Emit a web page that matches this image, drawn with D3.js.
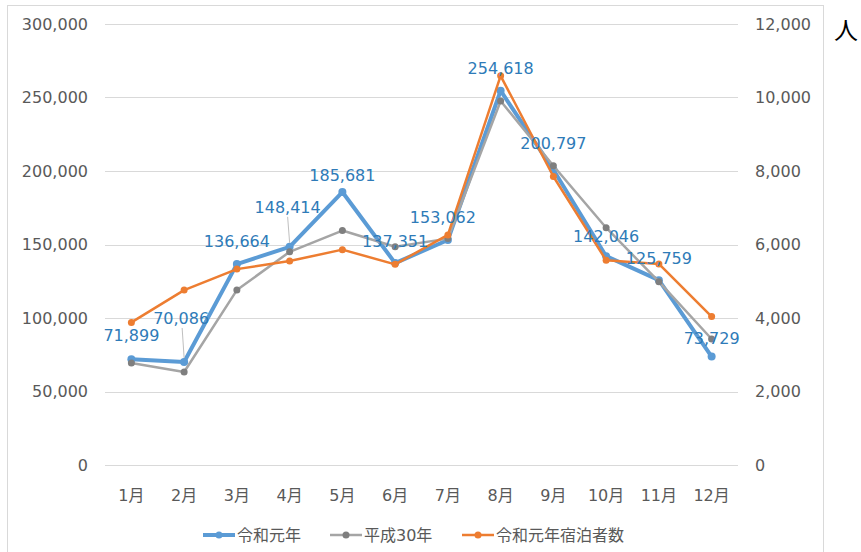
<!DOCTYPE html>
<html>
<head>
<meta charset="utf-8">
<script src="https://cdn.jsdelivr.net/npm/d3@7"></script>
<style>
  body { margin: 0; background: #fff; }
  svg { display: block; }
  text { font-family: "DejaVu Sans", "Noto Sans CJK JP", sans-serif; }
</style>
</head>
<body>
<svg width="861" height="552"></svg>
<script>
const months = ["1月", "2月", "3月", "4月", "5月", "6月", "7月", "8月", "9月", "10月", "11月", "12月"]

// 令和元年 (left axis)
const reiwa = [71899, 70086, 136664, 148414, 185681, 137351, 153062, 254618, 200797, 142046, 125759, 73729]
// 平成30年 (left axis)
const heisei30 = [69400, 63300, 119000, 145000, 159500, 148500, 154000, 247600, 203600, 161400, 124700, 85700]
// 令和元年宿泊者数 (right axis)
const stays = [3880, 4760, 5330, 5550, 5860, 5460, 6260, 10590, 7850, 5570, 5470, 4040]

const leftTicks = [0, 50000, 100000, 150000, 200000, 250000, 300000]
const rightTicks = [0, 2000, 4000, 6000, 8000, 10000, 12000]
const legendNames = ["令和元年", "平成30年", "令和元年宿泊者数"]

// label offsets relative to each point [dx, dy, leader?]
const labelOffsets = [
    [0, -24, false], [-3, -44, true], [0, -23, false], [-2, -40, true],
    [0, -17, false], [0, -22, false], [-5, -23, false], [0, -22, false],
    [0, -27, false], [0, -20, false], [0, -22, false], [0, -18, false]
]

const svg = d3.select("svg")
const fmt = d3.format(",")

svg.append("rect")
    .attr("x", 7.5).attr("y", 5.5)
    .attr("width", 816).attr("height", 560)
    .attr("fill", "none")
    .attr("stroke", "#d9d9d9")

const x = d3.scaleBand()
    .domain(months)
    .range([105, 738])

const yL = d3.scaleLinear().domain([0, 300000]).range([465, 24])
const yR = d3.scaleLinear().domain([0, 12000]).range([465, 24])

const cx = (i) => x(months[i]) + x.bandwidth() / 2

// gridlines
svg.append("g")
    .selectAll("line")
    .data(leftTicks)
    .enter()
    .append("line")
    .attr("x1", 105).attr("x2", 738)
    .attr("y1", d => Math.round(yL(d)) + 0.5)
    .attr("y2", d => Math.round(yL(d)) + 0.5)
    .attr("stroke", "#d9d9d9")
    .attr("stroke-width", 1)

// left axis
svg.append("g")
    .selectAll("text")
    .data(leftTicks)
    .enter()
    .append("text")
    .attr("x", 88)
    .attr("y", d => yL(d))
    .attr("dy", "0.36em")
    .attr("text-anchor", "end")
    .attr("font-size", 16)
    .attr("fill", "#595959")
    .text(d => fmt(d))

// right axis
svg.append("g")
    .selectAll("text")
    .data(rightTicks)
    .enter()
    .append("text")
    .attr("x", 755)
    .attr("y", d => yR(d))
    .attr("dy", "0.36em")
    .attr("font-size", 16)
    .attr("fill", "#595959")
    .text(d => fmt(d))

// month labels
svg.append("g")
    .selectAll("text")
    .data(months)
    .enter()
    .append("text")
    .attr("x", d => x(d) + x.bandwidth() / 2)
    .attr("y", 495)
    .attr("dy", "0.36em")
    .attr("text-anchor", "middle")
    .attr("font-size", 16)
    .attr("fill", "#595959")
    .text(d => d)

svg.append("text")
    .attr("x", 834).attr("y", 30)
    .attr("dy", "0.36em")
    .attr("font-size", 24)
    .attr("fill", "#000")
    .attr("font-family", "Noto Sans CJK JP")
    .text("人")

const series = [
    { values: reiwa, y: yL, color: "#5b9bd5", marker: "#5b9bd5", width: 4, r: 4 },
    { values: heisei30, y: yL, color: "#a5a5a5", marker: "#7f7f7f", width: 2.5, r: 3.5 },
    { values: stays, y: yR, color: "#ed7d31", marker: "#ed7d31", width: 2.5, r: 3.5 }
]

series.forEach(s => {
    const line = d3.line()
        .x((d, i) => cx(i))
        .y(d => s.y(d))

    svg.append("path")
        .datum(s.values)
        .attr("d", line)
        .attr("fill", "none")
        .attr("stroke", s.color)
        .attr("stroke-width", s.width)
        .attr("stroke-linejoin", "round")

    svg.append("g")
        .selectAll("circle")
        .data(s.values)
        .enter()
        .append("circle")
        .attr("cx", (d, i) => cx(i))
        .attr("cy", d => s.y(d))
        .attr("r", s.r)
        .attr("fill", s.marker)
})

// leader lines
svg.append("g")
    .selectAll("line")
    .data(reiwa.map((v, i) => ({ v, i })).filter(d => labelOffsets[d.i][2]))
    .enter()
    .append("line")
    .attr("x1", d => cx(d.i) - 2)
    .attr("y1", d => yL(d.v) + labelOffsets[d.i][1] + 10)
    .attr("x2", d => cx(d.i))
    .attr("y2", d => yL(d.v) - 4)
    .attr("stroke", "#bfbfbf")
    .attr("stroke-width", 1)

// data labels
svg.append("g")
    .selectAll("text")
    .data(reiwa)
    .enter()
    .append("text")
    .attr("x", (d, i) => cx(i) + labelOffsets[i][0])
    .attr("y", (d, i) => yL(d) + labelOffsets[i][1])
    .attr("dy", "0.36em")
    .attr("text-anchor", "middle")
    .attr("font-size", 16)
    .attr("fill", "#2e7bb8")
    .text(d => fmt(d))

// legend
const legendX = [203, 330, 462]
const legendColors = ["#5b9bd5", "#a5a5a5", "#ed7d31"]
const legendMarkers = ["#5b9bd5", "#7f7f7f", "#ed7d31"]
const legendWidths = [4, 2.5, 2.5]
const lg = svg.append("g")
legendNames.forEach((name, i) => {
    lg.append("line")
        .attr("x1", legendX[i]).attr("x2", legendX[i] + 32)
        .attr("y1", 535).attr("y2", 535)
        .attr("stroke", legendColors[i])
        .attr("stroke-width", legendWidths[i])
    lg.append("circle")
        .attr("cx", legendX[i] + 16).attr("cy", 535)
        .attr("r", 3.5)
        .attr("fill", legendMarkers[i])
    lg.append("text")
        .attr("x", legendX[i] + 34).attr("y", 535)
        .attr("dy", "0.36em")
        .attr("font-size", 16)
        .attr("fill", "#595959")
        .text(name)
})
</script>
</body>
</html>
